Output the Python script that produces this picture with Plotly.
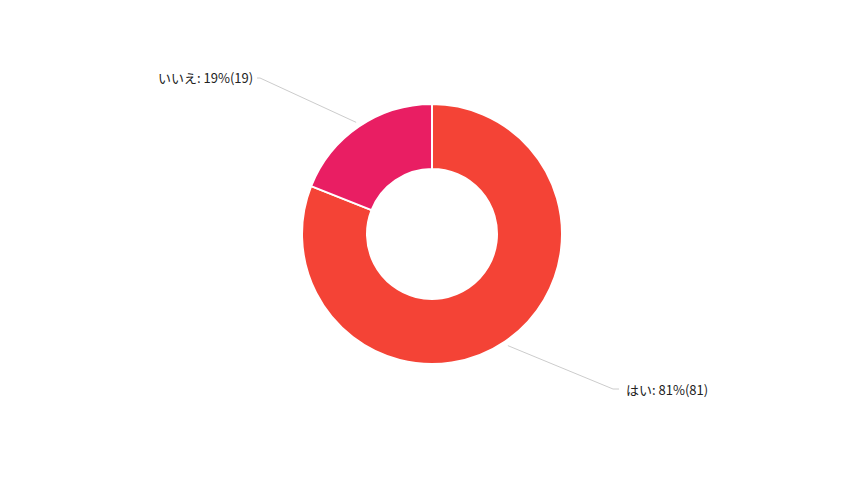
import math
import plotly.graph_objects as go

labels = ["はい", "いいえ"]
counts = [81, 19]
colors = ["#f44336", "#e91e63"]

W, H = 864, 483
off = 8  # page body margin
cx, cy, r = 432 - off, 234 - off, 130

total = sum(counts)
texts = ["{}: {}%({})".format(l, round(c * 100 / total), c) for l, c in zip(labels, counts)]

fig = go.Figure()
fig.add_trace(go.Pie(labels=labels, values=counts, hole=0.5, sort=False,
                     direction="clockwise", rotation=0,
                     marker=dict(colors=colors, line=dict(color="white", width=2)),
                     textinfo="none", hoverinfo="label+value+percent",
                     domain=dict(x=[(cx - r) / W, (cx + r) / W],
                                 y=[1 - (cy + r) / H, 1 - (cy - r) / H]),
                     showlegend=False))

# label anchors (pixels): where leader line meets the label
label_pos = [(619 - off, 389 - off, "left"), (257 - off, 78 - off, "right")]

shapes = []
annotations = []
acc = 0
for c, t, (lx, ly, side) in zip(counts, texts, label_pos):
    mid = (acc + c / 2) / total * 2 * math.pi
    acc += c
    sx = cx + (r + 5) * math.sin(mid)
    sy = cy - (r + 5) * math.cos(mid)
    kx = lx - 6 if side == "left" else lx + 3
    path = "M {} {} L {} {} L {} {}".format(sx / W, 1 - sy / H, kx / W, 1 - ly / H, lx / W, 1 - ly / H)
    shapes.append(dict(type="path", xref="paper", yref="paper", path=path,
                       line=dict(color="#cccccc", width=1)))
    annotations.append(dict(x=(lx + 5) / W if side == "left" else (lx - 2) / W, y=1 - ly / H,
                            xref="paper", yref="paper", text=t, showarrow=False,
                            xanchor=side, yanchor="middle",
                            font=dict(size=13, color="#222222")))

fig.update_layout(width=W, height=H, margin=dict(l=0, r=0, t=0, b=0),
                  paper_bgcolor="white", plot_bgcolor="white",
                  font=dict(family="Noto Sans CJK JP"),
                  shapes=shapes, annotations=annotations)
fig.write_html("out.html")
